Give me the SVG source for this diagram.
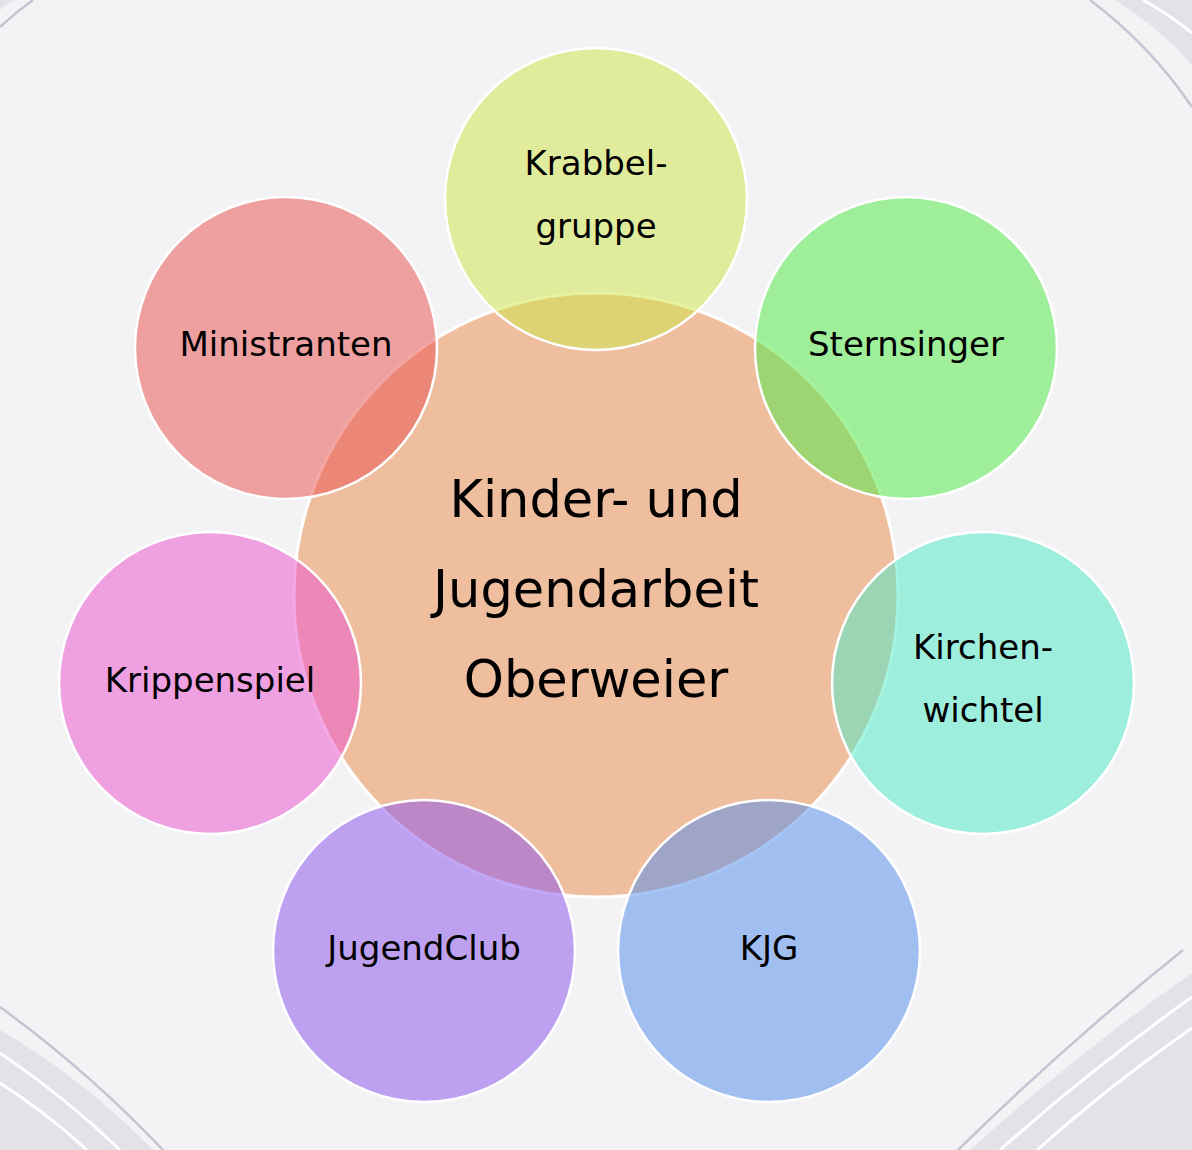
<svg xmlns="http://www.w3.org/2000/svg" width="1192" height="1150" viewBox="0 0 1192 1150">
<style>
.bandfill{fill:#E3E2E8}
.gl{fill:none;stroke:#C6C4D3;stroke-width:2.5}
.wl{fill:none;stroke:#FFFFFF;stroke-width:3}
.sat{fill-opacity:0.53;stroke:#FFFFFF;stroke-width:2.5}
.ctr{fill:#EFBE9F;stroke:#FFFFFF;stroke-width:3}
.t{font-family:"DejaVu Sans","Verdana",sans-serif;font-size:34px;fill:#000000;text-anchor:middle}
.tc{font-family:"DejaVu Sans","Verdana",sans-serif;font-size:51px;fill:#000000;text-anchor:middle}
</style>
<rect x="0" y="0" width="1192" height="1150" fill="#F3F3F6"/>
<g id="background">
<path class="bandfill" d="M1115,0 Q1160,28 1192,65 L1192,0 Z"/>
<path class="wl" d="M1143,0 Q1170,15 1192,33"/>
<path class="gl" d="M1090,0 Q1150,45 1192,107"/>
<path class="bandfill" d="M0,0 L14,0 Q6,5 0,10 Z"/>
<path class="gl" d="M0,27 Q16,12 33,0"/>
<path class="bandfill" d="M0,1030 Q85,1080 153,1150 L0,1150 Z"/>
<path class="wl" d="M0,1053 Q65,1097 120,1150"/>
<path class="wl" d="M0,1083 Q48,1114 87,1150"/>
<path class="gl" d="M0,1007 Q88,1071 163,1150"/>
<path class="bandfill" d="M1192,973 Q1075,1055 970,1150 L1192,1150 Z"/>
<path class="wl" d="M1192,997 Q1090,1070 1000,1150"/>
<path class="wl" d="M1192,1028 Q1110,1085 1037,1150"/>
<path class="gl" d="M1183,950 Q1065,1045 958,1150"/>
</g>
<g id="center">
<circle class="ctr" cx="596" cy="595" r="302"/>
<text class="tc" x="596" y="517">Kinder- und</text>
<text class="tc" x="596" y="607">Jugendarbeit</text>
<text class="tc" x="596" y="697">Oberweier</text>
</g>
<g id="krabbelgruppe">
<circle class="sat" cx="596" cy="199" r="151" fill="#CFE64C"/>
<text class="t" x="596" y="175">Krabbel-</text>
<text class="t" x="596" y="238">gruppe</text>
</g>
<g id="sternsinger">
<circle class="sat" cx="906" cy="348" r="151" fill="#53EA48"/>
<text class="t" x="906" y="356">Sternsinger</text>
</g>
<g id="kirchenwichtel">
<circle class="sat" cx="983" cy="683" r="151" fill="#53EAC7"/>
<text class="t" x="983" y="659">Kirchen-</text>
<text class="t" x="983" y="722">wichtel</text>
</g>
<g id="kjg">
<circle class="sat" cx="769" cy="951" r="151" fill="#568FEB"/>
<text class="t" x="769" y="960">KJG</text>
</g>
<g id="jugendclub">
<circle class="sat" cx="424" cy="951" r="151" fill="#8D56EB"/>
<text class="t" x="424" y="960">JugendClub</text>
</g>
<g id="krippenspiel">
<circle class="sat" cx="210" cy="683" r="151" fill="#EB56CD"/>
<text class="t" x="210" y="692">Krippenspiel</text>
</g>
<g id="ministranten">
<circle class="sat" cx="286" cy="348" r="151" fill="#EB5654"/>
<text class="t" x="286" y="356">Ministranten</text>
</g>
<g id="connectors"/>
</svg>
